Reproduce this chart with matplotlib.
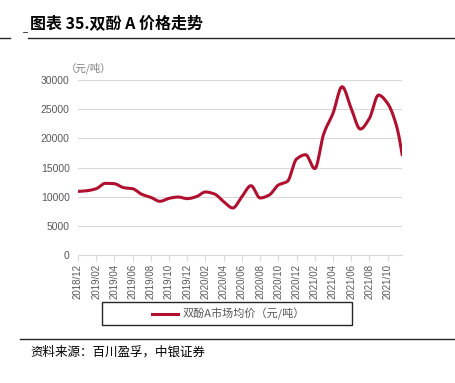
import matplotlib.pyplot as plt
from matplotlib.lines import Line2D
import numpy as np

plt.rcParams['font.family'] = ['Liberation Sans', 'Noto Sans CJK SC', 'DejaVu Sans']

# 月份序号，0 = 2018/12
months = [0, 1, 2, 3, 4, 5, 6, 7, 8, 9, 10, 11, 12, 13, 14, 15, 16, 17,
          18, 19, 20, 21, 22, 23, 24, 25, 26, 27, 28, 29, 30, 31, 32, 33,
          34, 35, 35.6]
price = [10950, 11060, 11400, 12320, 12260, 11580, 11400, 10440, 9920, 9240,
         9750, 9980, 9700, 10040, 10840, 10490, 9180, 8100, 10040, 11920,
         9810, 10320, 12030, 12660, 16480, 17220, 14830, 20870, 24300, 28860,
         25150, 21610, 23440, 27430, 26000, 22010, 17170]
tick_labels = ['2018/12', '2019/02', '2019/04', '2019/06', '2019/08', '2019/10',
               '2019/12', '2020/02', '2020/04', '2020/06', '2020/08', '2020/10',
               '2020/12', '2021/02', '2021/04', '2021/06', '2021/08', '2021/10']

fig = plt.figure(figsize=(4.56, 3.83), dpi=100)
ax = fig.add_axes([0.171, 0.3334, 0.711, 0.4576])

# 平滑曲线
xs = np.linspace(months[0], months[-1], 400)
try:
    from scipy.interpolate import PchipInterpolator
    ys = PchipInterpolator(months, price)(xs)
except ImportError:
    ys = np.interp(xs, months, price)
ax.plot(xs, ys, color='#B01030', lw=2.2, solid_capstyle='round')

ax.set_xlim(0, 35.6)
ax.set_ylim(0, 30000)
ax.set_yticks(range(0, 30001, 5000))
ax.set_xticks(range(0, 35, 2))
ax.set_xticklabels(tick_labels, rotation=90, fontsize=7, color='#595959')
ax.tick_params(axis='y', length=0, labelsize=7.5, labelcolor='#595959', pad=6)
ax.tick_params(axis='x', length=4, color='#D9D9D9', width=0.8, pad=2)
ax.grid(axis='y', color='#D9D9D9', lw=0.8)
ax.set_axisbelow(True)
for s in ['top', 'right', 'left']:
    ax.spines[s].set_visible(False)
ax.spines['bottom'].set_color('#D9D9D9')
ax.spines['bottom'].set_linewidth(0.8)

fig.text(66 / 456, 1 - 68 / 383, '（元/吨）', fontsize=7.5, color='#7F7F7F',
         va='center', ha='left', family=['Noto Sans CJK SC'])

# 标题
fig.text(30 / 456, 1 - 23 / 383, '图表 35.双酚 A 价格走势', fontsize=11.5,
         fontweight='bold', va='center', ha='left',
         family=['Noto Sans CJK SC', 'DejaVu Sans'])
fig.add_artist(Line2D([28 / 456, 1], [1 - 37.7 / 383] * 2, color='#262626', lw=1.0))
fig.add_artist(Line2D([0, 10 / 456], [1 - 37.7 / 383] * 2, color='#262626', lw=1.0))
fig.add_artist(Line2D([23 / 456, 27 / 456], [1 - 32 / 383] * 2, color='#262626', lw=0.6))

# 图例
fig.add_artist(plt.Rectangle((102 / 456, 1 - 325 / 383), 250 / 456, 23.3 / 383,
                             fill=False, ec='#262626', lw=1.0))
fig.add_artist(Line2D([152 / 456, 178 / 456], [1 - 313.5 / 383] * 2,
                      color='#B01030', lw=2.2))
fig.text(183 / 456, 1 - 313.5 / 383, '双酚A市场均价（元/吨）', fontsize=8,
         color='#595959', va='center', ha='left', family=['Noto Sans CJK SC'])

# 来源
fig.add_artist(Line2D([20 / 456, 1], [1 - 339 / 383] * 2, color='#262626', lw=1.0))
fig.text(30 / 456, 1 - 352 / 383, '资料来源：百川盈孚，中银证券', fontsize=9,
         style='italic', va='center', ha='left', family=['Noto Sans CJK SC'])

fig.savefig('out.png', dpi=100)
